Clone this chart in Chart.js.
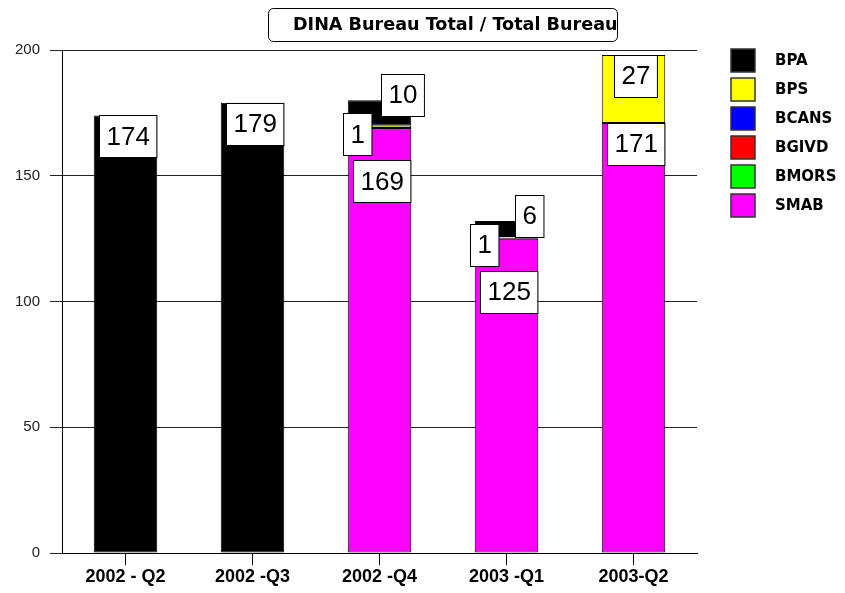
<!DOCTYPE html>
<html>
<head>
<meta charset="utf-8">
<title>DINA Bureau Total</title>
<script src="https://cdn.jsdelivr.net/npm/chart.js@4.4.0/dist/chart.umd.min.js"></script>
<style>
  html, body { margin: 0; padding: 0; background: #fff; }
  canvas { display: block; }
</style>
</head>
<body>
<canvas id="bureau" width="845" height="593"></canvas>
<script>
// values
const quarters = ['2002 - Q2', '2002 -Q3', '2002 -Q4', '2003 -Q1', '2003-Q2'];
const bpa   = [174, 179, 10, 6, 0];
const bps   = [0, 0, 1, 1, 27];
const bcans = [0, 0, 0, 0, 0];
const bgivd = [0, 0, 0, 0, 0];
const bmors = [0, 0, 0, 0, 0];
const smab  = [0, 0, 169, 125, 171];
const yTicks = [0, 50, 100, 150, 200];

const FONT = '"Liberation Sans", Arial, sans-serif';
const WIDE = '"DejaVu Sans", Verdana, sans-serif';
Chart.defaults.font.family = FONT;
Chart.defaults.color = '#000';

// boxed title at the top
const titleBox = {
  id: 'titleBox',
  afterDraw(chart) {
    const ctx = chart.ctx;
    const x = 268, y = 8, w = 349, h = 33;
    ctx.save();
    ctx.beginPath();
    ctx.roundRect(x + 0.5, y + 0.5, w, h, 5);
    ctx.fillStyle = '#fff';
    ctx.fill();
    ctx.lineWidth = 1;
    ctx.strokeStyle = '#000';
    ctx.stroke();
    ctx.clip();
    ctx.fillStyle = '#000';
    ctx.font = 'bold 17.6px ' + WIDE;
    ctx.textBaseline = 'middle';
    ctx.fillText('DINA Bureau Total / Total Bureau', x + 25, y + h / 2 + 1);
    ctx.restore();
  }
};

// legend on the right, top series first
const sideLegend = {
  id: 'sideLegend',
  afterDraw(chart) {
    const ctx = chart.ctx;
    const sets = chart.data.datasets.slice().reverse();
    ctx.save();
    ctx.font = 'bold 15px ' + WIDE;
    ctx.textBaseline = 'middle';
    sets.forEach((ds, k) => {
      const top = 49 + k * 29;
      ctx.fillStyle = ds.backgroundColor;
      ctx.fillRect(731, top, 24, 23);
      ctx.strokeStyle = '#333';
      ctx.lineWidth = 1.5;
      ctx.strokeRect(731, top, 24, 23);
      ctx.fillStyle = '#000';
      ctx.fillText(ds.label, 775, top + 12);
    });
    ctx.restore();
  }
};

// white boxed value labels on each segment
const valueBoxes = {
  id: 'valueBoxes',
  afterDatasetsDraw(chart) {
    const ctx = chart.ctx;
    const n = chart.data.datasets.length;
    ctx.save();
    ctx.font = '26px ' + FONT;
    ctx.textAlign = 'center';
    ctx.textBaseline = 'middle';
    chart.data.labels.forEach((_, i) => {
      const segs = [];
      for (let d = n - 1; d >= 0; d--) {
        const v = chart.data.datasets[d].data[i];
        if (!v) continue;
        segs.push({ v, bar: chart.getDatasetMeta(d).data[i] });
      }
      let small = 0;
      let lastBottom = -Infinity;
      segs.forEach(s => {
        const text = String(s.v);
        const w = ctx.measureText(text).width + 14;
        const bh = 42;
        const segH = s.bar.base - s.bar.y;
        let cx, top;
        if (segH < 30 && segs.length > 1) {
          cx = s.bar.x + (small === 0 ? 23 : -22);
          top = s.bar.y - bh / 2 + (small === 0 ? -5 : 9);
          small++;
        } else {
          cx = s.bar.x + 2;
          top = Math.max(s.bar.y, lastBottom + 5);
        }
        lastBottom = top + bh;
        const left = Math.round(cx - w / 2) + 0.5;
        ctx.fillStyle = '#fff';
        ctx.fillRect(left, Math.round(top) + 0.5, w, bh);
        ctx.strokeStyle = '#000';
        ctx.lineWidth = 1;
        ctx.strokeRect(left, Math.round(top) + 0.5, w, bh);
        ctx.fillStyle = '#000';
        ctx.fillText(text, left + w / 2, top + bh / 2 + 1);
      });
    });
    ctx.restore();
  }
};

const barStyle = { borderColor: '#000', borderWidth: 1, borderSkipped: false, barPercentage: 0.5, categoryPercentage: 1 };

new Chart(document.getElementById('bureau'), {
  type: 'bar',
  data: {
    labels: quarters,
    // stacked bottom to top
    datasets: [
      { label: 'SMAB',  data: smab,  backgroundColor: '#ff00ff', ...barStyle },
      { label: 'BMORS', data: bmors, backgroundColor: '#00ff00', ...barStyle },
      { label: 'BGIVD', data: bgivd, backgroundColor: '#ff0000', ...barStyle },
      { label: 'BCANS', data: bcans, backgroundColor: '#0000ff', ...barStyle },
      { label: 'BPS',   data: bps,   backgroundColor: '#ffff00', ...barStyle },
      { label: 'BPA',   data: bpa,   backgroundColor: '#000000', ...barStyle }
    ]
  },
  options: {
    responsive: false,
    animation: false,
    layout: { padding: { top: 50, right: 148, left: 0, bottom: 0 } },
    plugins: {
      legend: { display: false },
      title: { display: false },
      tooltip: { enabled: false }
    },
    scales: {
      x: {
        stacked: true,
        afterFit(scale) { scale.height = 40; },
        border: { display: true, color: '#000', width: 1 },
        grid: { offset: false, drawOnChartArea: false, drawTicks: true, tickLength: 12, color: '#000' },
        ticks: { font: { size: 18, weight: 'bold' }, padding: 1, color: '#000' }
      },
      y: {
        stacked: true,
        min: 0,
        max: 200,
        afterFit(scale) { scale.width = 62; },
        afterBuildTicks(scale) { scale.ticks = yTicks.map(v => ({ value: v })); },
        border: { display: true, color: '#000', width: 1 },
        grid: { color: '#222', lineWidth: 1, tickLength: 12 },
        ticks: { font: { size: 15 }, padding: 10, color: '#222' }
      }
    }
  },
  plugins: [valueBoxes, titleBox, sideLegend]
});
</script>
</body>
</html>
